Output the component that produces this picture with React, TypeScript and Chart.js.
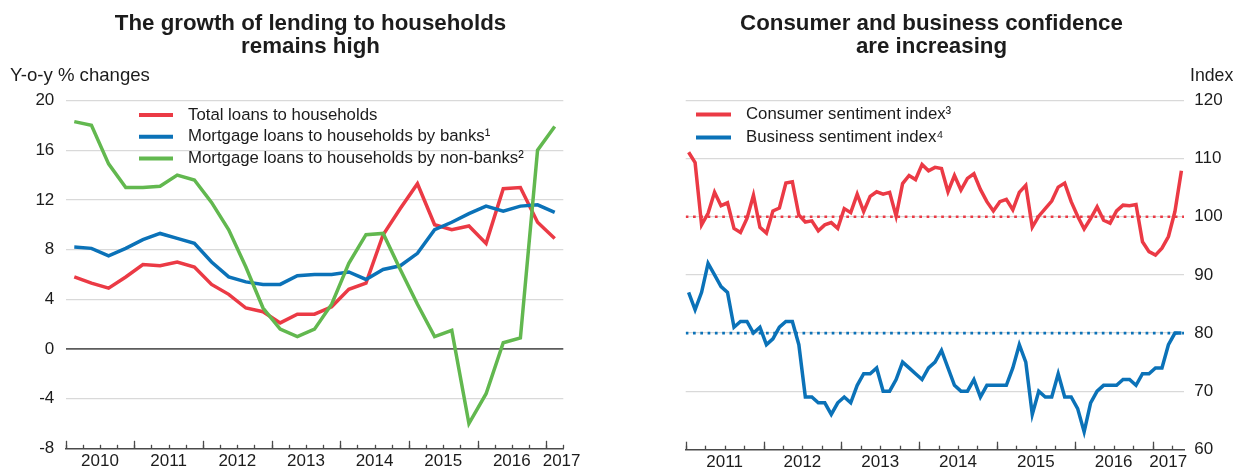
import React, { useEffect, useRef } from 'react';
import { Chart, registerables } from 'chart.js';

Chart.register(...registerables);

const FONT = '"Liberation Sans", Arial, Helvetica, sans-serif';
const TEXT = '#1c1c1c';
const AXIS = '#4a4a4a';
const GRID = '#d9d9d9';
const RED = '#eb3a45';
const BLUE = '#0b72b8';
const GREEN = '#62b84f';

// ---------------- Left panel: quarterly, 2010 Q1 – 2017 Q1 ----------------
const lendingQuarters = [
  '2010 Q1', '2010 Q2', '2010 Q3', '2010 Q4',
  '2011 Q1', '2011 Q2', '2011 Q3', '2011 Q4',
  '2012 Q1', '2012 Q2', '2012 Q3', '2012 Q4',
  '2013 Q1', '2013 Q2', '2013 Q3', '2013 Q4',
  '2014 Q1', '2014 Q2', '2014 Q3', '2014 Q4',
  '2015 Q1', '2015 Q2', '2015 Q3', '2015 Q4',
  '2016 Q1', '2016 Q2', '2016 Q3', '2016 Q4',
  '2017 Q1',
];
const totalLoans = [
  5.8, 5.3, 4.9, 5.8, 6.8, 6.7, 7.0, 6.6, 5.2, 4.4, 3.3, 3.0, 2.1, 2.8, 2.8,
  3.4, 4.8, 5.3, 9.2, 11.3, 13.3, 10.0, 9.6, 9.9, 8.5, 12.9, 13.0, 10.2, 8.9,
];
const mortgageBanks = [
  8.2, 8.1, 7.5, 8.1, 8.8, 9.3, 8.9, 8.5, 7.0, 5.8, 5.4, 5.2, 5.2, 5.9, 6.0,
  6.0, 6.2, 5.6, 6.4, 6.7, 7.7, 9.6, 10.2, 10.9, 11.5, 11.1, 11.5, 11.6, 11.0,
];
const mortgageNonBanks = [
  18.3, 18.0, 14.9, 13.0, 13.0, 13.1, 14.0, 13.6, 11.8, 9.6, 6.6, 3.3, 1.6, 1.0,
  1.6, 3.6, 6.9, 9.2, 9.3, 6.4, 3.6, 1.0, 1.5, -6.0, -3.6, 0.5, 0.9, 16.0, 17.9,
];
const lendingYears = ['2010', '2011', '2012', '2013', '2014', '2015', '2016', '2017'];
const lendingYTicks = [-8, -4, 0, 4, 8, 12, 16, 20];

// ---------------- Right panel: monthly, Jan 2011 – May 2017 ----------------
const consumerSentiment = [
  111.1, 109.3, 98.6, 100.6, 104.2, 101.9, 102.4, 98.0, 97.3, 99.7,
  103.7, 98.2, 97.2, 101.0, 101.5, 105.8, 106.0, 100.3, 99.1, 99.3,
  97.6, 98.6, 99.0, 98.0, 101.4, 100.7, 103.9, 100.9, 103.5, 104.3,
  103.9, 104.2, 100.1, 105.7, 107.1, 106.4, 109.0, 107.9, 108.5, 108.3,
  104.3, 107.1, 104.6, 106.6, 107.4, 104.7, 102.6, 101.0, 102.6, 103.0,
  101.2, 104.2, 105.4, 98.2, 100.1, 101.4, 102.7, 105.1, 105.8, 102.6,
  100.1, 97.9, 99.7, 101.7, 99.4, 98.9, 101.0, 102.0, 101.9, 102.1,
  95.7, 94.0, 93.4, 94.6, 96.6, 100.9, 107.9,
];
const businessSentiment = [
  87, 84, 87, 92, 90, 88, 87, 81, 82, 82,
  80, 81, 78, 79, 81, 82, 82, 78, 69, 69,
  68, 68, 66, 68, 69, 68, 71, 73, 73, 74,
  70, 70, 72, 75, 74, 73, 72, 74, 75, 77,
  74, 71, 70, 70, 72, 69, 71, 71, 71, 71,
  74, 78, 75, 66, 70, 69, 69, 73, 69, 69,
  67, 63, 68, 70, 71, 71, 71, 72, 72, 71,
  73, 73, 74, 74, 78, 80, 80,
];
const consumerAverage = 100;
const businessAverage = 80;
const sentimentYears = ['2011', '2012', '2013', '2014', '2015', '2016', '2017'];
const sentimentYTicks = [60, 70, 80, 90, 100, 110, 120];
const sentimentMonths: string[] = [];
for (let y = 2011; y <= 2017; y++) {
  for (let m = 1; m <= 12; m++) {
    if (sentimentMonths.length < consumerSentiment.length) {
      sentimentMonths.push(`${y}-${String(m).padStart(2, '0')}`);
    }
  }
}

// ---------------- helpers ----------------
const W = 621;
const H = 470;
const TICK_SIZE = 17;
const TEXT_SIZE = 16.8;
const TITLE_SIZE = 22.3;

const panelTextPlugin = {
  id: 'panelText',
  afterDraw(chart: any, _args: any, opts: any) {
    const ctx = chart.ctx as CanvasRenderingContext2D;
    ctx.save();
    ctx.fillStyle = TEXT;
    ctx.textAlign = 'center';
    ctx.textBaseline = 'alphabetic';
    ctx.font = `bold ${TITLE_SIZE}px ${FONT}`;
    opts.title.forEach((line: string, i: number) => {
      ctx.fillText(line, chart.width / 2, opts.titleY + i * opts.titleLine);
    });
    ctx.font = `${opts.unitSize}px ${FONT}`;
    ctx.textAlign = opts.unitAlign;
    ctx.fillText(opts.unit, opts.unitX, opts.unitY);
    ctx.font = `${TEXT_SIZE}px ${FONT}`;
    const items = chart.data.datasets.filter((d: any) => d.inLegend);
    items.forEach((d: any, i: number) => {
      const y = opts.legendY + i * opts.legendRow;
      ctx.strokeStyle = d.borderColor;
      ctx.lineWidth = 4;
      ctx.lineCap = 'butt';
      ctx.beginPath();
      ctx.moveTo(opts.legendX, y);
      ctx.lineTo(opts.legendX + opts.swatch, y);
      ctx.stroke();
      ctx.fillStyle = TEXT;
      ctx.textAlign = 'left';
      ctx.textBaseline = 'middle';
      ctx.fillText(d.label, opts.legendX + opts.swatch + opts.gap, y);
    });
    ctx.restore();
  },
};

// Upward tick marks on the time axis, placed through the x scale.
const axisTicksPlugin = {
  id: 'axisTicks',
  afterDraw(chart: any, _args: any, opts: any) {
    const scale = chart.scales.x;
    const ctx = chart.ctx as CanvasRenderingContext2D;
    const base = chart.chartArea.bottom;
    ctx.save();
    ctx.strokeStyle = AXIS;
    ctx.lineWidth = 1.3;
    const draw = (values: number[], len: number) => {
      values.forEach((v) => {
        const px = Math.round(scale.getPixelForValue(v)) + 0.5;
        ctx.beginPath();
        ctx.moveTo(px, base);
        ctx.lineTo(px, base - len);
        ctx.stroke();
      });
    };
    draw(opts.minor, 3.6);
    draw(opts.major, 7.6);
    ctx.restore();
  },
};

function timeAxis(max: number, minorStep: number, majorStep: number, labels: string[], lastShift: number) {
  const minor: number[] = [];
  for (let v = 0; v <= max + 1e-6; v += minorStep) minor.push(v);
  const major: number[] = [];
  for (let v = 0; v <= max + 1e-6; v += majorStep) major.push(v);
  const labelAt = labels.map((_, i) => {
    const a = i * majorStep;
    const b = Math.min(a + majorStep, max);
    return (a + b) / 2 + (i === labels.length - 1 ? lastShift : 0);
  });
  const scale = {
    type: 'linear',
    position: 'bottom',
    min: 0,
    max,
    afterBuildTicks: (s: any) => { s.ticks = labelAt.map((value) => ({ value })); },
    afterFit: (s: any) => { s.height = H - 449.3; },
    ticks: {
      display: true, autoSkip: false, maxRotation: 0, minRotation: 0, padding: 2.8,
      color: TEXT, font: { family: FONT, size: TICK_SIZE },
      callback: (_v: any, i: number) => labels[i],
    },
    grid: { display: true, drawOnChartArea: false, drawTicks: false, color: AXIS },
    border: { display: true, color: AXIS, width: 1.5 },
  };
  return { scale, ticks: { minor, major } };
}

function lendingConfig() {
  const pts = (arr: number[]) => arr.map((y, i) => ({ x: i + 0.5, y }));
  const line = (label: string, data: number[], color: string, order: number) => ({
    label, data: pts(data), borderColor: color, backgroundColor: color,
    borderWidth: 3.5, pointRadius: 0, tension: 0, fill: false, order, inLegend: true,
  });
  const time = timeAxis(lendingQuarters.length, 1, 4, lendingYears, 0.4);
  return {
    type: 'line',
    data: {
      labels: lendingQuarters,
      datasets: [
        line('Total loans to households', totalLoans, RED, 2),
        line('Mortgage loans to households by banks¹', mortgageBanks, BLUE, 1),
        line('Mortgage loans to households by non-banks²', mortgageNonBanks, GREEN, 0),
      ],
    },
    options: {
      animation: false,
      responsive: false,
      layout: { padding: { top: 100.5, left: 0, right: W - 563.3, bottom: 0 } },
      scales: {
        x: time.scale,
        y: {
          type: 'linear', position: 'left', min: lendingYTicks[0],
          max: lendingYTicks[lendingYTicks.length - 1],
          afterFit: (s: any) => { s.width = 65.7; },
          afterBuildTicks: (s: any) => { s.ticks = lendingYTicks.map((value) => ({ value })); },
          ticks: { padding: 11.4, color: TEXT, font: { family: FONT, size: TICK_SIZE } },
          grid: {
            drawTicks: false,
            color: (c: any) => (c.tick.value === 0 ? '#5c5c5c' : c.tick.value === lendingYTicks[0] ? 'rgba(0,0,0,0)' : GRID),
            lineWidth: (c: any) => (c.tick.value === 0 ? 1.8 : 1.3),
          },
          border: { display: false },
        },
      },
      plugins: {
        legend: { display: false },
        tooltip: { enabled: false },
        axisTicks: time.ticks,
        panelText: {
          title: ['The growth of lending to households', 'remains high'],
          titleY: 30, titleLine: 22.5,
          unit: 'Y-o-y % changes', unitSize: 18.6, unitX: 10, unitY: 81, unitAlign: 'left',
          legendX: 139, legendY: 115, legendRow: 21.7, swatch: 34, gap: 15,
        },
      },
    },
    plugins: [axisTicksPlugin, panelTextPlugin],
  };
}

function sentimentConfig() {
  const pts = (arr: number[]) => arr.map((y, i) => ({ x: i + 0.45, y }));
  const xMax = 76.85;
  const refLine = (value: number, color: string) => ({
    label: 'ref', data: [{ x: 0, y: value }, { x: xMax, y: value }],
    borderColor: color, borderWidth: 2.7, borderDash: [2.7, 4.6], pointRadius: 0,
    tension: 0, fill: false, order: 5, inLegend: false,
  });
  const time = timeAxis(xMax, 3, 12, sentimentYears, 0);
  return {
    type: 'line',
    data: {
      labels: sentimentMonths,
      datasets: [
        {
          label: 'Consumer sentiment index³', data: pts(consumerSentiment), borderColor: RED,
          backgroundColor: RED, borderWidth: 3.5, pointRadius: 0, tension: 0, fill: false,
          order: 1, inLegend: true,
        },
        {
          label: 'Business sentiment index⁴', data: pts(businessSentiment), borderColor: BLUE,
          backgroundColor: BLUE, borderWidth: 3.5, pointRadius: 0, tension: 0, fill: false,
          order: 0, inLegend: true,
        },
        refLine(consumerAverage, RED),
        refLine(businessAverage, BLUE),
      ],
    },
    options: {
      animation: false,
      responsive: false,
      layout: { padding: { top: 100.5, left: 64.7, right: 0, bottom: 0 } },
      scales: {
        x: time.scale,
        y: {
          type: 'linear', position: 'right', min: sentimentYTicks[0],
          max: sentimentYTicks[sentimentYTicks.length - 1],
          afterFit: (s: any) => { s.width = W - 563; },
          afterBuildTicks: (s: any) => { s.ticks = sentimentYTicks.map((value) => ({ value })); },
          ticks: { padding: 10.3, color: TEXT, font: { family: FONT, size: TICK_SIZE } },
          grid: {
            drawTicks: false,
            color: (c: any) => (c.tick.value === sentimentYTicks[0] ? 'rgba(0,0,0,0)' : GRID),
            lineWidth: 1.3,
          },
          border: { display: false },
        },
      },
      plugins: {
        legend: { display: false },
        tooltip: { enabled: false },
        axisTicks: time.ticks,
        panelText: {
          title: ['Consumer and business confidence', 'are increasing'],
          titleY: 30, titleLine: 22.5,
          unit: 'Index', unitSize: 17.7, unitX: 612.3, unitY: 81, unitAlign: 'right',
          legendX: 75, legendY: 114.5, legendRow: 23, swatch: 35, gap: 15,
        },
      },
    },
    plugins: [axisTicksPlugin, panelTextPlugin],
  };
}

function Panel({ make }: { make: () => any }) {
  const ref = useRef<HTMLCanvasElement>(null);
  useEffect(() => {
    if (!ref.current) return;
    const chart = new Chart(ref.current, make());
    return () => chart.destroy();
  }, [make]);
  return (
    <div style={{ width: W, height: H, position: 'relative' }}>
      <canvas ref={ref} width={W} height={H} style={{ display: 'block', width: W, height: H }} />
    </div>
  );
}

export default function App() {
  return (
    <div
      style={{
        position: 'fixed', left: 0, top: 0, width: 2 * W, height: H,
        display: 'flex', background: '#ffffff', fontFamily: FONT,
      }}
    >
      <Panel make={lendingConfig} />
      <Panel make={sentimentConfig} />
    </div>
  );
}
